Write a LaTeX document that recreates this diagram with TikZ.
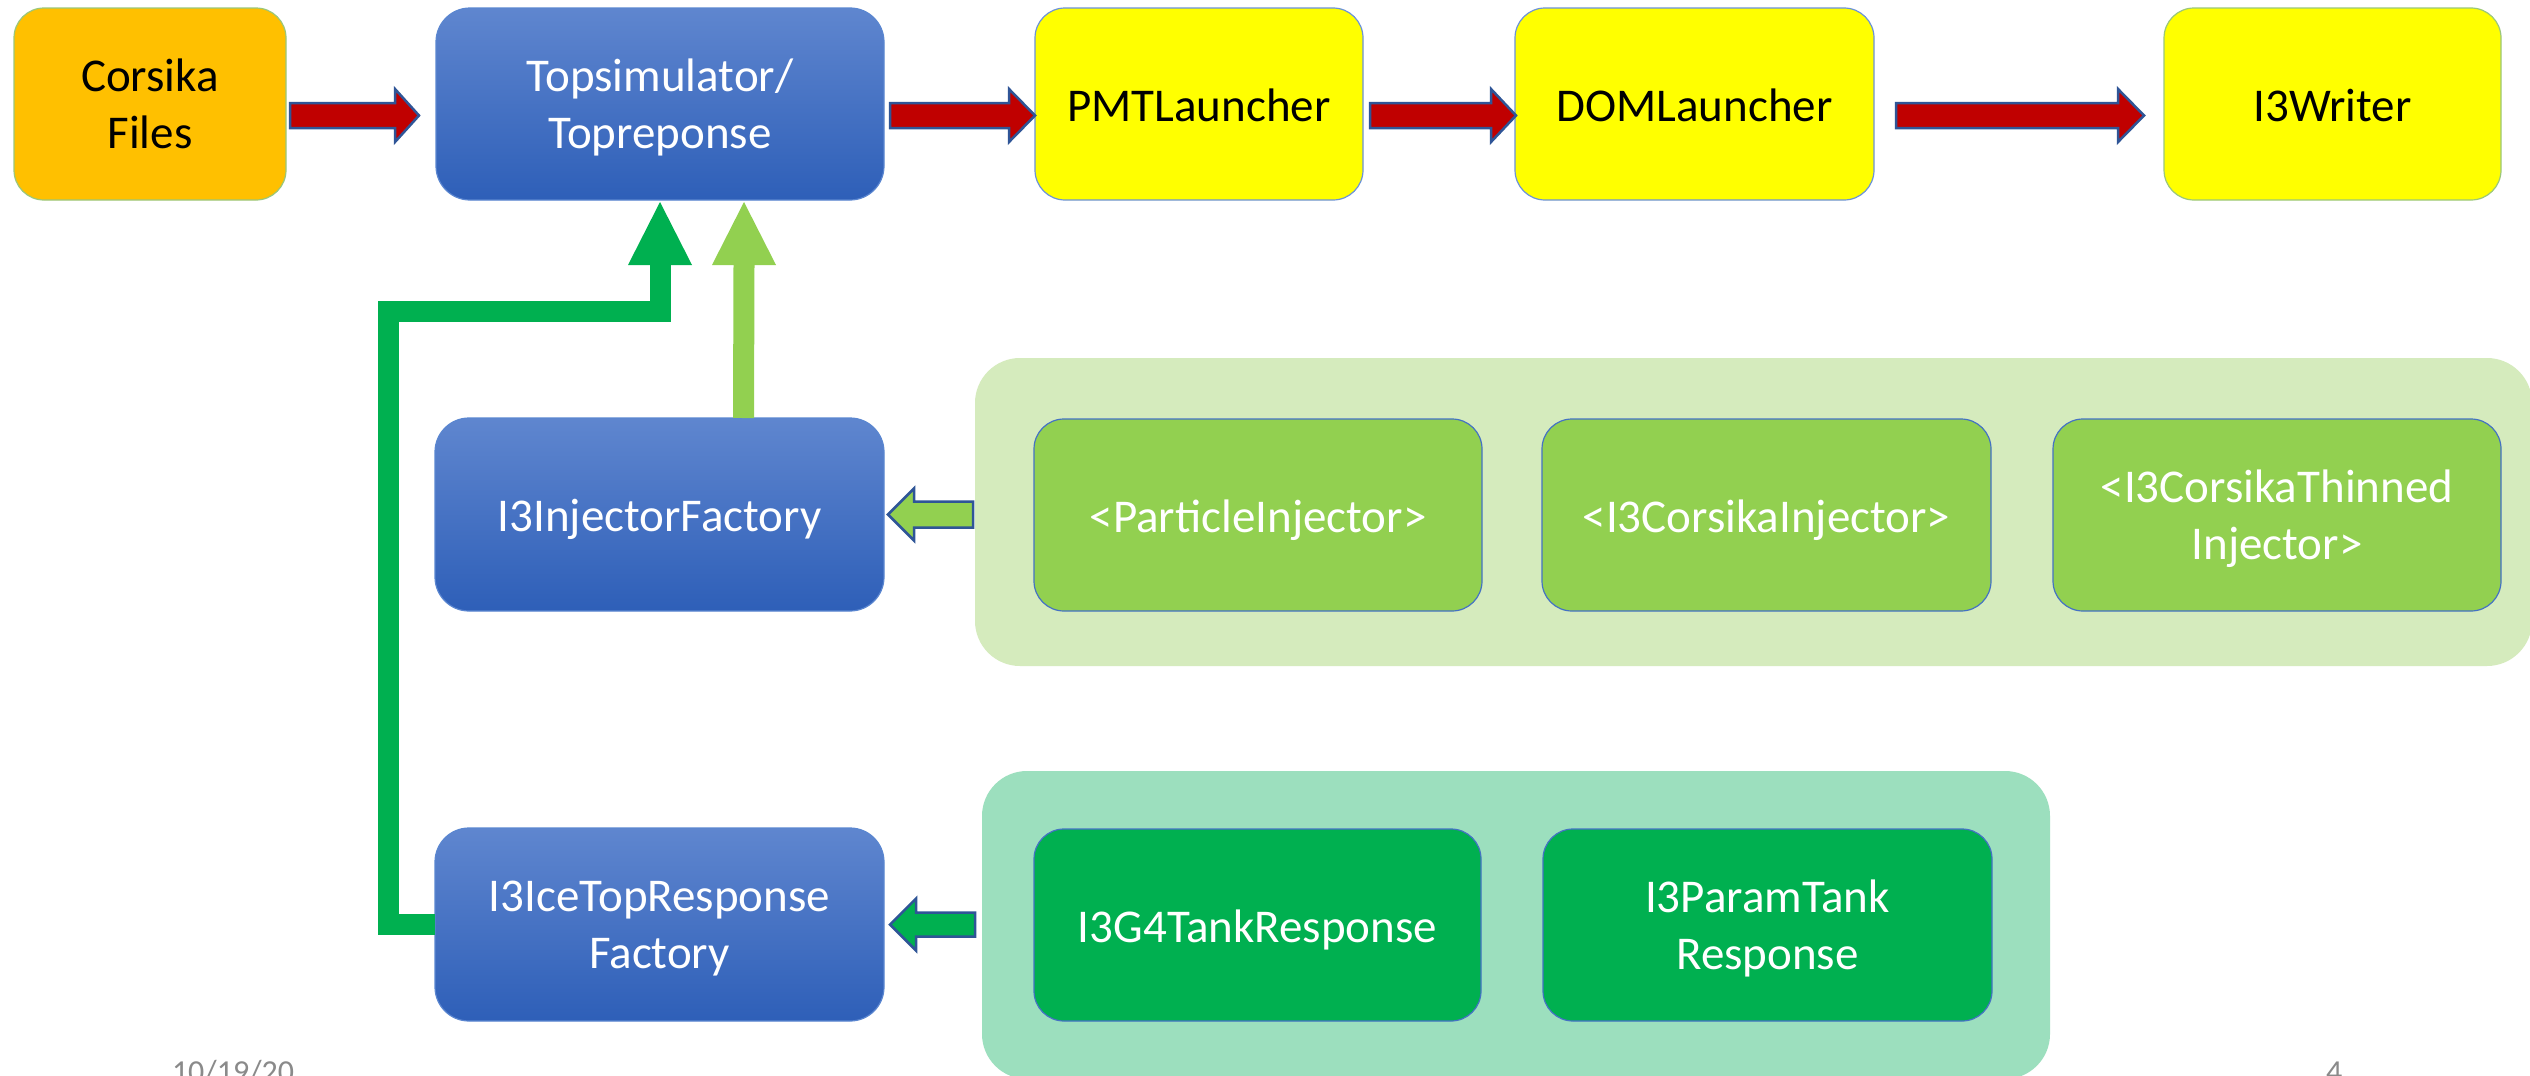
\documentclass[tikz,border=0pt]{standalone}
\usepackage{fontspec}
\setmainfont{Carlito}
\usetikzlibrary{calc}
\definecolor{corsOr}{HTML}{FFC000}
\definecolor{yel}{HTML}{FFFF00}
\definecolor{edgeGreen}{HTML}{9BC77A}
\definecolor{edgeBlue}{HTML}{6C93D8}
\definecolor{blueT}{HTML}{5F86CF}
\definecolor{blueB}{HTML}{2E5FB8}
\definecolor{blueEdge}{HTML}{5A86D0}
\definecolor{lgreen}{HTML}{92D050}
\definecolor{dgreen}{HTML}{00B050}
\definecolor{innerEdge}{HTML}{4472C4}
\definecolor{lpanelC}{HTML}{D5EBBD}
\definecolor{dpanelC}{HTML}{9CDFBE}
\definecolor{arrRed}{HTML}{C00000}
\definecolor{arrEdge}{HTML}{2F5597}
\definecolor{footC}{HTML}{8A8A8A}
\tikzset{
  basebox/.style={anchor=north west, rounded corners=30pt, inner sep=0pt, outer sep=0pt,
    align=center, text depth=0pt, text height=34pt, font=\fontsize{47pt}{57pt}\selectfont, line width=1.2pt},
  twolines/.style={text height=88pt},
  orangebox/.style={basebox, fill=corsOr, draw=edgeGreen, text=black},
  yellowbox/.style={basebox, fill=yel, draw=edgeBlue, text=black},
  bluebox/.style={basebox, top color=blueT, bottom color=blueB, draw=blueEdge, text=white, rounded corners=34pt},
  lgbox/.style={basebox, fill=lgreen, draw=innerEdge, text=white},
  dgbox/.style={basebox, fill=dgreen, draw=innerEdge, text=white},
  panelbox/.style={anchor=north west, inner sep=0pt, outer sep=0pt, rounded corners=45pt},
  redarrow/.style={fill=arrRed, draw=arrEdge, line width=2.5pt, line join=miter},
  lgarrow/.style={fill=lgreen, draw=arrEdge, line width=2.5pt, line join=miter},
  dgarrow/.style={fill=dgreen, draw=arrEdge, line width=2.5pt, line join=miter},
  lgline/.style={draw=lgreen, line width=21pt, line join=miter},
  dgline/.style={draw=dgreen, line width=21pt, line join=miter},
  footer/.style={font=\fontsize{32pt}{38pt}\selectfont, text=footC, inner sep=0pt, outer sep=0pt}
}
\newcommand\rarrow[6]{%
  \filldraw[#1] let \p1=(#2), \p2=(#3) in
    (\x1,\y1+#4) -- (\x2-#6,\y1+#4) -- (\x2-#6,\y1+#5) -- (\x2,\y1) --
    (\x2-#6,\y1-#5) -- (\x2-#6,\y1-#4) -- (\x1,\y1-#4) -- cycle;}
\newcommand\larrow[6]{%
  \filldraw[#1] let \p1=(#2), \p2=(#3) in
    (\x1,\y1+#4) -- (\x2+#6,\y1+#4) -- (\x2+#6,\y1+#5) -- (\x2,\y1) --
    (\x2+#6,\y1-#5) -- (\x2+#6,\y1-#4) -- (\x1,\y1-#4) -- cycle;}
\begin{document}
\begin{tikzpicture}[x=1pt,y=-1pt]
\useasboundingbox (0,0) rectangle (2530,1076);
\clip (0,0) rectangle (2530,1076);
\fill[white] (0,0) rectangle (2530,1076);

% panels
\node[panelbox, fill=lpanelC, minimum width=1557pt, minimum height=308pt] (lpanel) at (975,358) {};
\node[panelbox, fill=dpanelC, minimum width=1068pt, minimum height=308pt] (dpanel) at (982,771) {};

% top row
\node[orangebox, twolines, minimum width=272pt, minimum height=192pt] (corsika) at (14,8) {Corsika\\Files};
\node[bluebox, twolines, minimum width=448pt, minimum height=192pt] (topsim) at (436,8) {Topsimulator/\\Topreponse};
\node[yellowbox, minimum width=328pt, minimum height=192pt] (pmt) at (1035,8) {PMTLauncher};
\node[yellowbox, minimum width=359pt, minimum height=192pt] (dom) at (1515,8) {DOMLauncher};
\node[yellowbox, draw=edgeGreen, minimum width=337pt, minimum height=192pt] (writer) at (2164,8) {I3Writer};

% factories
\node[bluebox, minimum width=449pt, minimum height=193pt] (inj) at (435,418) {I3InjectorFactory};
\node[bluebox, twolines, minimum width=449pt, minimum height=193pt] (resp) at (435,828) {I3IceTopResponse\\Factory};

% injectors
\node[lgbox, minimum width=448pt, minimum height=192pt] (pinj) at (1034,419) {<ParticleInjector>};
\node[lgbox, minimum width=449pt, minimum height=192pt] (cinj) at (1542,419) {<I3CorsikaInjector>};
\node[lgbox, twolines, minimum width=448pt, minimum height=192pt] (tinj) at (2053,419) {<I3CorsikaThinned\\Injector>};

% tank responses
\node[dgbox, minimum width=447pt, minimum height=192pt] (g4) at (1034,829) {I3G4TankResponse};
\node[dgbox, twolines, minimum width=449pt, minimum height=192pt] (param) at (1543,829) {I3ParamTank\\Response};

% red flow arrows
\rarrow{redarrow}{$(corsika.east)+(4,11.5)$}{$(topsim.west)+(-17,11.5)$}{12.5pt}{26.5pt}{24pt}
\rarrow{redarrow}{$(topsim.east)+(6,11.5)$}{$(pmt.west)+(0,11.5)$}{12.5pt}{26.5pt}{26pt}
\rarrow{redarrow}{$(pmt.east)+(7,11.5)$}{$(dom.west)+(1,11.5)$}{12.5pt}{26.5pt}{25pt}
\rarrow{redarrow}{$(dom.east)+(22,11.5)$}{$(writer.west)+(-20,11.5)$}{12.5pt}{26.5pt}{26pt}

% left block arrows from panels
\larrow{lgarrow}{$(lpanel.west |- inj.east)+(-2,0)$}{$(inj.east)+(4,0)$}{13pt}{26pt}{26pt}
\larrow{dgarrow}{$(dpanel.west |- resp.east)+(-7,0)$}{$(resp.east)+(6,0)$}{12pt}{26pt}{26pt}

% light green up arrow
\draw[lgline] ([xshift=84pt]inj.north) -- ([xshift=84pt,yshift=-65pt]topsim.south);
\fill[lgreen] ([xshift=52pt,yshift=-65pt]topsim.south) -- ([xshift=116pt,yshift=-65pt]topsim.south)
  -- ([xshift=84pt,yshift=-2pt]topsim.south) -- cycle;

% dark green L connector
\coordinate (bend) at (388.5,311.5);
\draw[dgline] (resp.west) -| (bend) -| ([yshift=-65pt]topsim.south);
\fill[dgreen] ([xshift=-32pt,yshift=-65pt]topsim.south) -- ([xshift=32pt,yshift=-65pt]topsim.south)
  -- ([yshift=-2pt]topsim.south) -- cycle;

% footer
\node[footer, anchor=base west] (date) at (172,1082) {10/19/20};
\node[footer, anchor=base west] (pagenum) at (2326,1082) {4};
\end{tikzpicture}
\end{document}
